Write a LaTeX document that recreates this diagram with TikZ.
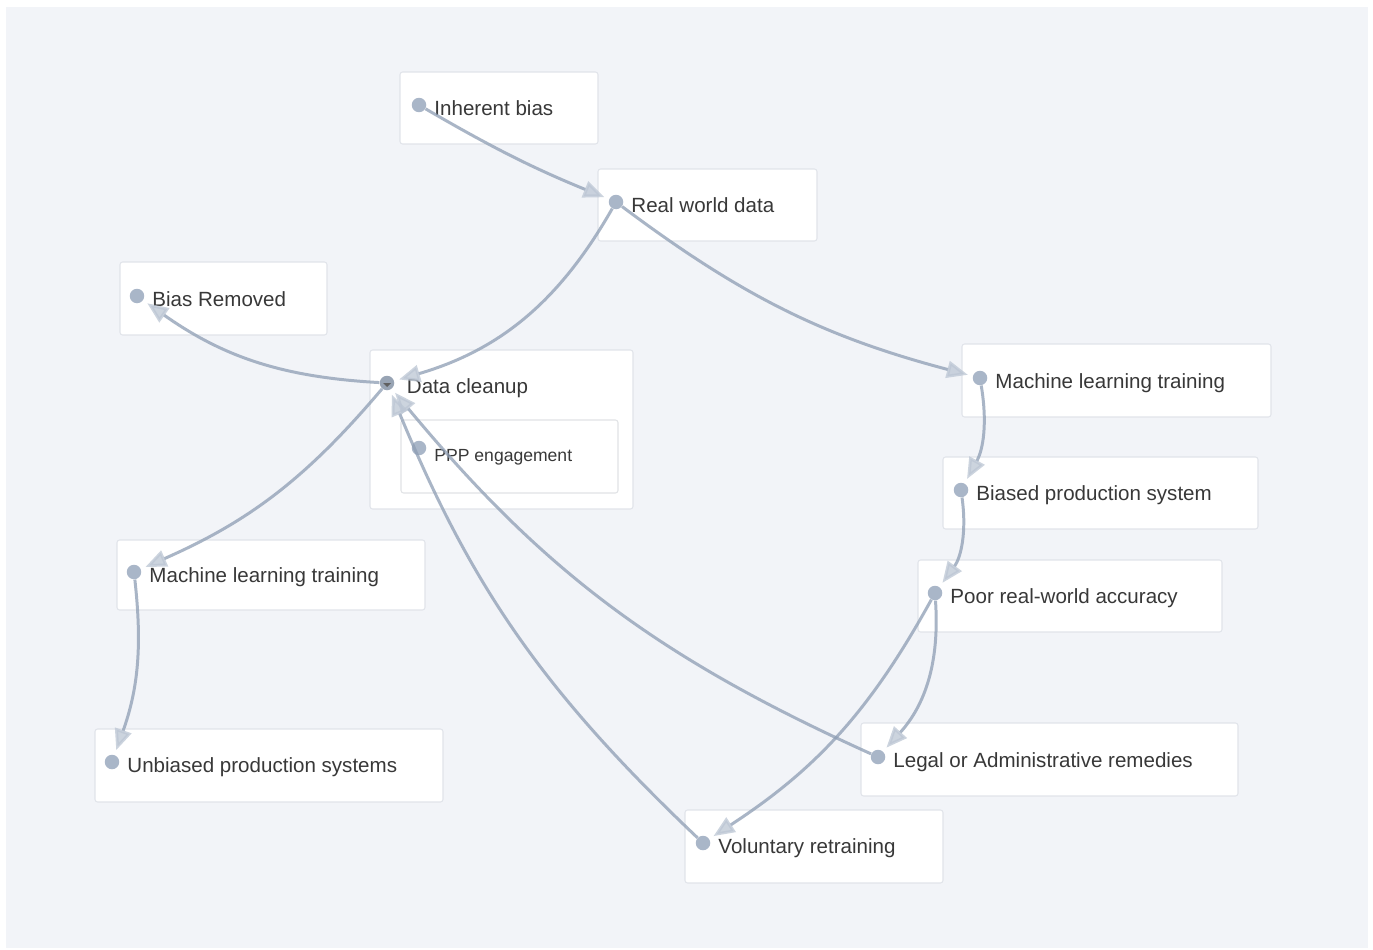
\documentclass[tikz,border=0pt]{standalone}
\usepackage{fontspec}
\setmainfont{Liberation Sans}
\usetikzlibrary{arrows.meta,positioning}
\definecolor{panel}{HTML}{F2F4F8}
\definecolor{cardline}{HTML}{E1E4EA}
\definecolor{dotc}{HTML}{A9B6C8}
\definecolor{linkc}{HTML}{8D9DB3}
\definecolor{tipc}{HTML}{BCC6D4}
\definecolor{txt}{HTML}{383838}

\begin{document}
\begin{tikzpicture}[x=0.02cm, y=-0.02cm,
    card/.style={fill=white, draw=cardline, line width=0.6pt, rounded corners=1.5pt},
    dot/.style={circle, fill=dotc, minimum size=0.29cm, inner sep=0pt},
    lbl/.style={inner sep=0pt, text height=0.41cm, text depth=0pt, text=txt, font=\fontsize{11.7}{14}\selectfont},
    link/.style={line width=1.7pt, draw=linkc, opacity=0.75, shorten >=0.1cm, -{Triangle[length=0.42cm, width=0.34cm, color=tipc]}}]
        \fill[white] (0,0) rectangle (1373,950);
        \fill[panel] (6,7) rectangle (1368,948);
        \useasboundingbox (0,0) rectangle (1373,950);

        \path[card] (400,72) rectangle (598,144);
        \path[card] (598,169) rectangle (817,241);
        \path[card] (120,262) rectangle (327,335);
        \path[card] (370,350) rectangle (633,509);
        \path[card, draw=cardline!80!gray!60] (401,420) rectangle (618,493);
        \path[card] (962,344) rectangle (1271,417);
        \path[card] (943,457) rectangle (1258,529);
        \path[card] (918,560) rectangle (1222,632);
        \path[card] (117,540) rectangle (425,610);
        \path[card] (95,729) rectangle (443,802);
        \path[card] (861,723) rectangle (1238,796);
        \path[card] (685,810) rectangle (943,883);

        \node[dot] (ib) at (419,105) {};
        \node[lbl, right=0.15cm of ib] (ibt) {Inherent bias};
        \node[dot] (rw) at (616,202) {};
        \node[lbl, right=0.15cm of rw] (rwt) {Real world data};
        \node[dot] (br) at (137,296) {};
        \node[lbl, right=0.15cm of br] (brt) {Bias Removed};
        \node[dot, fill=dotc!90!black] (dc) at (387,383) {};
        \fill[txt!80] ([xshift=-0.08cm]dc.center) -- ++(0.16cm,0) -- ++(-0.08cm,-0.08cm) -- cycle;
        \node[lbl, right=0.24cm of dc] (dct) {Data cleanup};
        \node[dot] (ppp) at (419,448) {};
        \node[lbl, right=0.15cm of ppp, yshift=-0.1cm, text height=0.35cm, font=\fontsize{10}{12}\selectfont] (pppt) {PPP engagement};
        \node[dot] (mlr) at (980,378) {};
        \node[lbl, right=0.15cm of mlr] (mlrt) {Machine learning training};
        \node[dot] (bps) at (961,490) {};
        \node[lbl, right=0.15cm of bps] (bpst) {Biased production system};
        \node[dot] (prw) at (935,593) {};
        \node[lbl, right=0.15cm of prw] (prwt) {Poor real-world accuracy};
        \node[dot] (mll) at (134,572) {};
        \node[lbl, right=0.15cm of mll] (mllt) {Machine learning training};
        \node[dot] (ubs) at (112,762) {};
        \node[lbl, right=0.15cm of ubs] (ubst) {Unbiased production systems};
        \node[dot] (lar) at (878,757) {};
        \node[lbl, right=0.15cm of lar] (lart) {Legal or Administrative remedies};
        \node[dot] (vr) at (703,843) {};
        \node[lbl, right=0.15cm of vr] (vrt) {Voluntary retraining};

        \draw[link] (ib) to[bend right=4] (rw);
        \draw[link] (rw) to[bend left=22] (dc);
        \draw[link] (rw) to[bend right=11] (mlr);
        \draw[link] (dc) to[bend left=16] (br);
        \draw[link] (dc) to[bend left=13] (mll);
        \draw[link] (mll) to[bend left=13] (ubs);
        \draw[link] (mlr) to[bend left=19] (bps);
        \draw[link] (bps) to[bend left=22] (prw);
        \draw[link] (prw) to[bend left=23] (lar);
        \draw[link] (prw) to[bend left=14] (vr);
        \draw[link] (lar) to[bend left=13] (dc);
        \draw[link] (vr) to[bend left=12] (dc);
\end{tikzpicture}
\end{document}
